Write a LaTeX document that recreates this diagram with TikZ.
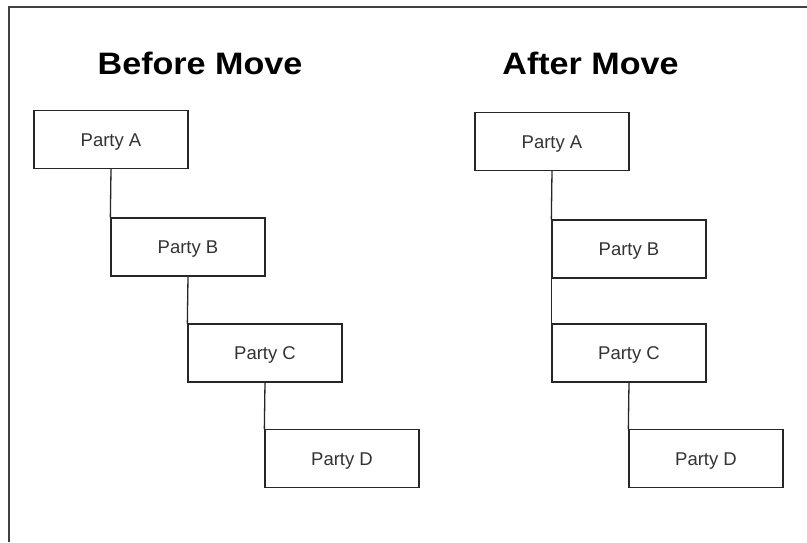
\documentclass[tikz,border=0pt]{standalone}
\usepackage{fontspec}
\setmainfont{Liberation Sans}
\begin{document}
\begin{tikzpicture}[x=1pt,y=-1pt,
  partybox/.style={draw=black!85, line width=1.3pt, minimum width=154pt, minimum height=58pt,
    inner sep=0pt, text=black!80, font=\fontsize{18.5}{20}\selectfont, text height=13.3pt, text depth=0pt},
  title/.style={font=\fontsize{31}{34}\bfseries\selectfont, text height=22pt, text depth=0pt, inner sep=0pt},
  link/.style={draw=black!85, line width=1.3pt}]
\useasboundingbox (0,0) rectangle (807,542);
\fill[white] (0,0) rectangle (807,542);
\coordinate (frameBL) at (9,542);
\coordinate (frameTL) at (9,7);
\coordinate (frameTR) at (807,7);
\draw[black!75, line width=1.6pt] (frameBL) -- (frameTL) -- (frameTR);
% titles
\node[title, xscale=1.1] (t1) at (200,63.5) {Before Move};
\node[title, xscale=1.1] (t2) at (590.5,63.5) {After Move};
% before
\node[partybox] (a1) at (111,139.5) {Party A};
\node[partybox] (b1) at (188,247) {Party B};
\node[partybox] (c1) at (265,353) {Party C};
\node[partybox] (d1) at (342,458.5) {Party D};
\draw[link] (a1.south) -- (b1.north west);
\draw[link] (b1.south) -- (c1.north west);
\draw[link] (c1.south) -- (d1.north west);
% after
\node[partybox] (a2) at (552,141.5) {Party A};
\node[partybox] (b2) at (629,249) {Party B};
\node[partybox] (c2) at (629,353) {Party C};
\node[partybox] (d2) at (706,458.5) {Party D};
\draw[link] (a2.south) -- (b2.north west);
\draw[link] (b2.south west) -- (c2.north west);
\draw[link] (c2.south) -- (d2.north west);
\end{tikzpicture}
\end{document}
